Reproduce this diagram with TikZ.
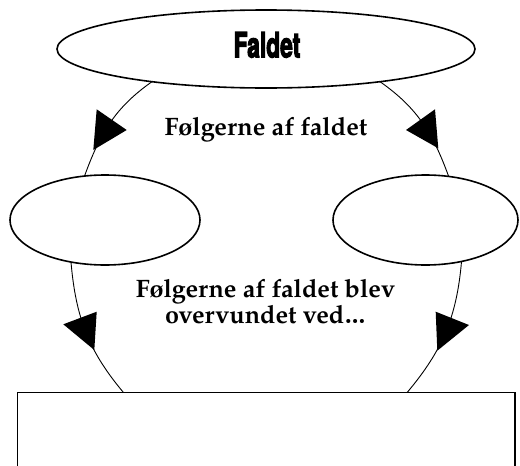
\documentclass[tikz,border=0pt]{standalone}
\usepackage{graphicx}
\usepackage{fontspec}
\setmainfont{TeX Gyre Pagella}
\newfontfamily\headfont{TeX Gyre Heros}[BoldFeatures={FakeBold=4}]
\usetikzlibrary{shapes.geometric,calc}
\begin{document}
\begin{tikzpicture}[x=1pt,y=1pt,
  bub/.style={draw, line width=1.6pt, ellipse, inner sep=0pt, outer sep=0pt},
  link/.style={line width=0.9pt},
  headfill/.style={fill=black},
  lab/.style={font=\fontsize{25.2}{25.8}\selectfont\bfseries, align=center, anchor=base, inner sep=0pt},
  headlab/.style={font=\headfont\bfseries\fontsize{34.5}{36}\selectfont, anchor=base, inner sep=0pt}]
\useasboundingbox (0,0) rectangle (520,-466);
\clip (0,0) rectangle (520,-466);
\node[bub, minimum width=418pt, minimum height=78pt] (top) at (266,-49) {};
\node[headlab] (title) at (267,-57.3) {\scalebox{0.66}[1]{Faldet}};
\node[bub, minimum width=190pt, minimum height=90pt] (left) at (105,-220) {};
\node[bub, minimum width=185pt, minimum height=90pt] (right) at (425.5,-220) {};
\node[draw, line width=1.6pt, minimum width=497.7pt, minimum height=120pt,
  inner sep=0pt, outer sep=0pt, anchor=north west] (box) at (17.3,-392.3) {};
\coordinate (b1) at ($(box.north west)+(106,0)$);
\coordinate (b2) at ($(box.north east)+(-107.7,0)$);
\draw[link] (top.196) to[out=215,in=70] (left.115);
\draw[link] (top.344) to[out=325,in=110] (right.62);
\draw[link] (left.231) to[out=275,in=130] (b1);
\draw[link] (right.311) to[out=265,in=50] (b2);
\fill[headfill] (96.7,-109.3) -- (126.7,-130) -- (93.3,-150) -- cycle;
\fill[headfill] (435,-109.3) -- (406,-130) -- (438.3,-148.3) -- cycle;
\fill[headfill] (96.7,-311.7) -- (63.3,-324.3) -- (94.3,-350) -- cycle;
\fill[headfill] (435.7,-311.7) -- (469,-325) -- (437.3,-350.7) -- cycle;
\node[lab] (l1) at (266,-135) {Følgerne af faldet};
\node[lab] (l2) at (265.5,-323.5) {Følgerne af faldet blev\\overvundet ved\ldots};
\end{tikzpicture}
\end{document}
